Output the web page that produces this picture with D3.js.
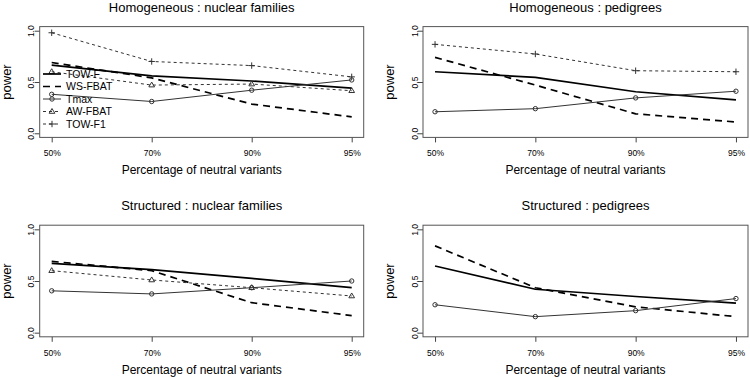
<!DOCTYPE html>
<html>
<head>
<meta charset="utf-8">
<script src="https://cdn.jsdelivr.net/npm/d3@7"></script>
<style>
  body { margin: 0; background: #fff; }
  svg text { font-family: "Liberation Sans", Arial, sans-serif; fill: #000; }
</style>
</head>
<body>
<svg id="chart" width="750" height="378"></svg>
<script>
const categories = ["50%", "70%", "90%", "95%"];
const seriesNames = ["TOW-F", "WS-FBAT", "Tmax", "AW-FBAT", "TOW-F1"];

// Homogeneous : nuclear families
const towF_HN = [0.665, 0.56, 0.51, 0.44];
const wsFbat_HN = [0.69, 0.54, 0.285, 0.16];
const tmax_HN = [0.38, 0.31, 0.42, 0.52];
const awFbat_HN = [0.6, 0.47, 0.48, 0.415];
const towF1_HN = [0.98, 0.7, 0.66, 0.55];

// Homogeneous : pedigrees
const towF_HP = [0.6, 0.545, 0.405, 0.325];
const wsFbat_HP = [0.74, 0.47, 0.19, 0.11];
const tmax_HP = [0.21, 0.24, 0.345, 0.41];
const towF1_HP = [0.867, 0.773, 0.61, 0.6];

// Structured : nuclear families
const towF_SN = [0.67, 0.61, 0.525, 0.435];
const wsFbat_SN = [0.69, 0.6, 0.29, 0.165];
const tmax_SN = [0.405, 0.375, 0.435, 0.5];
const awFbat_SN = [0.6, 0.51, 0.435, 0.355];

// Structured : pedigrees
const towF_SP = [0.645, 0.42, 0.35, 0.285];
const wsFbat_SP = [0.84, 0.435, 0.25, 0.155];
const tmax_SP = [0.27, 0.155, 0.213, 0.33];

const styles = {
  "TOW-F": { width: 1.7, dash: null, color: "#000", pch: null },
  "WS-FBAT": { width: 1.7, dash: "7,5", color: "#000", pch: null },
  "Tmax": { width: 1, dash: null, color: "#333", pch: "circle" },
  "AW-FBAT": { width: 1, dash: "3,3", color: "#333", pch: "triangle" },
  "TOW-F1": { width: 1, dash: "3,3", color: "#333", pch: "plus" },
};

const panels = [
  { title: "Homogeneous : nuclear families", box: [39.7, 26.6, 363.7, 137.4], legend: true,
    series: { "TOW-F": towF_HN, "WS-FBAT": wsFbat_HN, "Tmax": tmax_HN, "AW-FBAT": awFbat_HN, "TOW-F1": towF1_HN } },
  { title: "Homogeneous : pedigrees", box: [423, 26.6, 748, 137.4],
    series: { "TOW-F": towF_HP, "WS-FBAT": wsFbat_HP, "Tmax": tmax_HP, "TOW-F1": towF1_HP } },
  { title: "Structured : nuclear families", box: [39.7, 225.2, 363.7, 336.8],
    series: { "TOW-F": towF_SN, "WS-FBAT": wsFbat_SN, "Tmax": tmax_SN, "AW-FBAT": awFbat_SN } },
  { title: "Structured : pedigrees", box: [423, 225.2, 748, 336.8],
    series: { "TOW-F": towF_SP, "WS-FBAT": wsFbat_SP, "Tmax": tmax_SP } },
];

const svg = d3.select("#chart");

function drawSymbol(g, type, x, y, color) {
  if (type === "circle") {
    g.append("circle").attr("cx", x).attr("cy", y).attr("r", 2.2)
      .attr("fill", "none").attr("stroke", color).attr("stroke-width", 1);
  } else if (type === "triangle") {
    const r = 3;
    g.append("path")
      .attr("d", `M${x},${y - r}L${x + r * 0.95},${y + r * 0.6}L${x - r * 0.95},${y + r * 0.6}Z`)
      .attr("fill", "none").attr("stroke", color).attr("stroke-width", 1);
  } else if (type === "plus") {
    const r = 3.2;
    g.append("path")
      .attr("d", `M${x - r},${y}H${x + r}M${x},${y - r}V${y + r}`)
      .attr("stroke", color).attr("stroke-width", 1);
  }
}

panels.forEach((p) => {
  const [x0, y0, x1, y1] = p.box;
  const g = svg.append("g");
  const x = d3.scalePoint().domain(categories).range([x0, x1]).padding(0.12);
  const y = d3.scaleLinear().domain([-0.04, 1.04]).range([y1, y0]);

  // axes
  const yAxis = g.append("g")
    .attr("transform", `translate(${x0},0)`)
    .call(d3.axisLeft(y).tickValues([0, 0.5, 1]).tickFormat(d3.format(".1f")).tickSize(5));
  yAxis.select(".domain").remove();
  yAxis.selectAll(".tick line").attr("stroke", "#444");
  yAxis.selectAll(".tick text")
    .attr("x", null).attr("dy", null)
    .attr("transform", "translate(-5.5,0) rotate(-90)")
    .attr("text-anchor", "middle")
    .style("font-size", "8.5px").attr("fill", "#000");

  const xAxis = g.append("g")
    .attr("transform", `translate(0,${y1})`)
    .call(d3.axisBottom(x).tickSize(5).tickPadding(8));
  xAxis.select(".domain").remove();
  xAxis.selectAll(".tick line").attr("stroke", "#444");
  xAxis.selectAll(".tick text").style("font-size", "8.5px").attr("fill", "#000");

  // box
  g.append("rect")
    .attr("x", x0).attr("y", y0)
    .attr("width", x1 - x0).attr("height", y1 - y0)
    .attr("fill", "none").attr("stroke", "#555").attr("stroke-width", 1);

  // titles
  g.append("text").attr("x", (x0 + x1) / 2).attr("y", y0 - 15)
    .attr("text-anchor", "middle").style("font-size", "13px").text(p.title);
  g.append("text").attr("x", (x0 + x1) / 2).attr("y", y1 + 37)
    .attr("text-anchor", "middle").style("font-size", "12px").text("Percentage of neutral variants");
  g.append("text")
    .attr("transform", `translate(${x0 - 29},${(y0 + y1) / 2}) rotate(-90)`)
    .attr("text-anchor", "middle").style("font-size", "13px").text("power");

  // series
  const line = d3.line().x((d, i) => x(categories[i])).y((d) => y(d));
  Object.entries(p.series).forEach(([name, values]) => {
    const s = styles[name];
    g.append("path")
      .datum(values)
      .attr("d", line)
      .attr("fill", "none")
      .attr("stroke", s.color)
      .attr("stroke-width", s.width)
      .attr("stroke-dasharray", s.dash);
    if (s.pch) {
      values.forEach((v, i) => drawSymbol(g, s.pch, x(categories[i]), y(v), s.color));
    }
  });

  // legend
  if (p.legend) {
    const lg = g.append("g");
    seriesNames.forEach((name, i) => {
      const s = styles[name];
      const ly = 74 + i * 12.5;
      lg.append("line")
        .attr("x1", 43).attr("x2", 61).attr("y1", ly).attr("y2", ly)
        .attr("stroke", s.color).attr("stroke-width", s.width)
        .attr("stroke-dasharray", s.dash);
      if (s.pch) drawSymbol(lg, s.pch, 52, ly, s.color);
      lg.append("text").attr("x", 66).attr("y", ly + 3.6)
        .style("font-size", "10.5px").text(name);
    });
  }
});
</script>
</body>
</html>
